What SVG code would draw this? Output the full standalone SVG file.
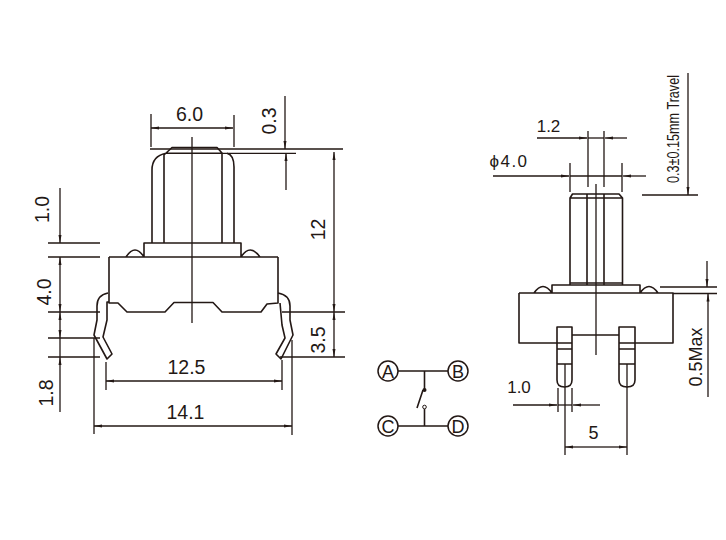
<svg xmlns="http://www.w3.org/2000/svg" width="726" height="540" viewBox="0 0 726 540">
<style>
.l{fill:none;stroke:#231815;stroke-width:1.6;stroke-linejoin:round}
.d{fill:none;stroke:#231815;stroke-width:1.3}
.a{marker-end:url(#ah)}
.t{font-family:"Liberation Sans",Arial,sans-serif;fill:#231815;font-size:19.500px;text-anchor:middle}
.s{font-size:17px}
.n{font-size:18px}
.c{fill:#fff;stroke:#231815;stroke-width:1.5}
</style>
<defs>
<marker id="ah" markerUnits="userSpaceOnUse" markerWidth="9" markerHeight="5" refX="8" refY="2" orient="auto"><path d="M0 0.5L8 2L0 3.5Z" fill="#231815"/></marker>
</defs>
<rect width="726" height="540" fill="#fff"/>
<g id="front-view">
<path class="l" d="M152 243V170Q152 156 166 153.300H222M164 243V155L172 147.500H217L222 153V243M234 243V167Q234 155 227 153.300"/>
<path class="l" d="M144 257V243H241V257M109 257H278M126 257Q135 243 144 257M241 257Q250 243 260 257"/>
<path class="l" d="M109 257V303H118L127 312H165L174 302.500H213L222 312H261L267 304L278 303V257"/>
<path class="l" d="M108 293Q97 295 97 306V320L94 335L107 359L112 354L103 337L107 320V302H109"/>
<path class="l" d="M278 293Q290 295 290 306V320L293 335L281 359L276 354L285 338L282 325L280 303"/>
</g>
<g id="switch-symbol">
<circle class="c" cx="388" cy="371" r="10"/><circle class="c" cx="458" cy="371" r="10"/>
<circle class="c" cx="388" cy="426" r="10"/><circle class="c" cx="458" cy="426" r="10"/>
<path class="l" d="M398 371H448M398 426H448M424.500 371V390M424.500 409V426M423 390L417 408"/>
<circle cx="424.500" cy="390" r="2" fill="#231815"/>
<circle cx="424.500" cy="407" r="1.800" fill="#fff" stroke="#231815"/>
</g>
<g id="side-view">
<path class="l" d="M570 285V198L572.500 194H619L622.500 198V285M570 198H622.500M587 194V285M604 194V285M570 283H622.500"/>
<path class="l" d="M552 293V285H640V293M519 293H673V343H635M519 293V343H557M534 293Q543 280 552 293M640 293Q649 280 658 293M572 335H619"/>
<path class="l" d="M557 327H572V380Q572 387 564.500 387Q557 387 557 380ZM557 343H572M557 349H572M557 364H572"/>
<path class="l" d="M619 327H635V380Q635 387 627 387Q619 387 619 380ZM619 343H635M619 349H635M619 364H635"/>
</g>
<g id="connectors">
<path class="d" d="M192 137V323M151 114V147M234 115V147M150 149H343M222 153.300H296M48 243H100M48 257H100M48 312H100M48 338H100M48 357H100M282 312H345M280 357H345M106 362V390M282 360V390M94 338V434M292 340V435"/>
<path class="d a" d="M192 128H151"/><path class="d a" d="M192 128H233"/>
<path class="d a" d="M285 96V149"/><path class="d a" d="M286 190V153"/>
<path class="d a" d="M60 188V243"/><path class="d a" d="M60 285V257"/><path class="d a" d="M60 285V312"/>
<path class="d a" d="M60 325V312"/><path class="d a" d="M60 325V338"/><path class="d" d="M60 338V357"/><path class="d a" d="M60 412V357"/>
<path class="d a" d="M334 230V152"/><path class="d a" d="M334 230V312"/>
<path class="d a" d="M334 335V312"/><path class="d a" d="M334 335V357"/>
<path class="d a" d="M190 381H106"/><path class="d a" d="M190 381H282"/>
<path class="d a" d="M190 426H94"/><path class="d a" d="M190 426H292"/>
<path class="d" d="M596 184V355M588 131V187M604 131V187M570 163V192M622 163V192M565 364V455M627 364V455M558 388V412M572 388V412M660 287H717M673 293.500H717M642 195H698"/>
<path class="d a" d="M537 138H587"/><path class="d a" d="M627 138H605"/><path class="d" d="M588 138H604"/>
<path class="d a" d="M493 176H569"/><path class="d a" d="M646 176H623"/><path class="d" d="M570 176H622"/>
<path class="d a" d="M688 73V195"/>
<path class="d a" d="M513 405H557"/><path class="d a" d="M600 405H573"/><path class="d" d="M558 405H572"/>
<path class="d a" d="M596 447H565"/><path class="d a" d="M596 447H627"/>
<path class="d a" d="M707 261V287"/><path class="d a" d="M708 397V293.500"/>
</g>
<g id="labels">
<text class="t" x="189.500" y="121">6.0</text>
<text class="t" x="186.500" y="374">12.5</text>
<text class="t" x="185.500" y="419">14.1</text>
<text class="t" transform="translate(49 209.500) rotate(-90)">1.0</text>
<text class="t" transform="translate(51 292) rotate(-90)">4.0</text>
<text class="t" transform="translate(53 393) rotate(-90)">1.8</text>
<text class="t" transform="translate(325 229.500) rotate(-90)">12</text>
<text class="t" transform="translate(276 121) rotate(-90)">0.3</text>
<text class="t" transform="translate(325 340) rotate(-90)">3.5</text>
<text class="t" transform="translate(702 357) rotate(-90)" style="font-size:18px">0.5Max</text>
<text class="t s" x="548.500" y="132">1.2</text>
<text class="t s" x="509" y="167" style="letter-spacing:1.500px">ϕ4.0</text>
<text class="t s" x="519" y="393">1.0</text>
<text class="t n" x="593.500" y="438.500">5</text>
<text class="t" transform="translate(679 129) rotate(-90)" style="font-size:17px" textLength="108" lengthAdjust="spacingAndGlyphs">0.3±0.15mm Travel</text>
<text class="t n" x="388" y="377.500">A</text>
<text class="t n" x="458" y="377.500">B</text>
<text class="t n" x="388" y="432.500">C</text>
<text class="t n" x="458" y="432.500">D</text>
</g>
</svg>
